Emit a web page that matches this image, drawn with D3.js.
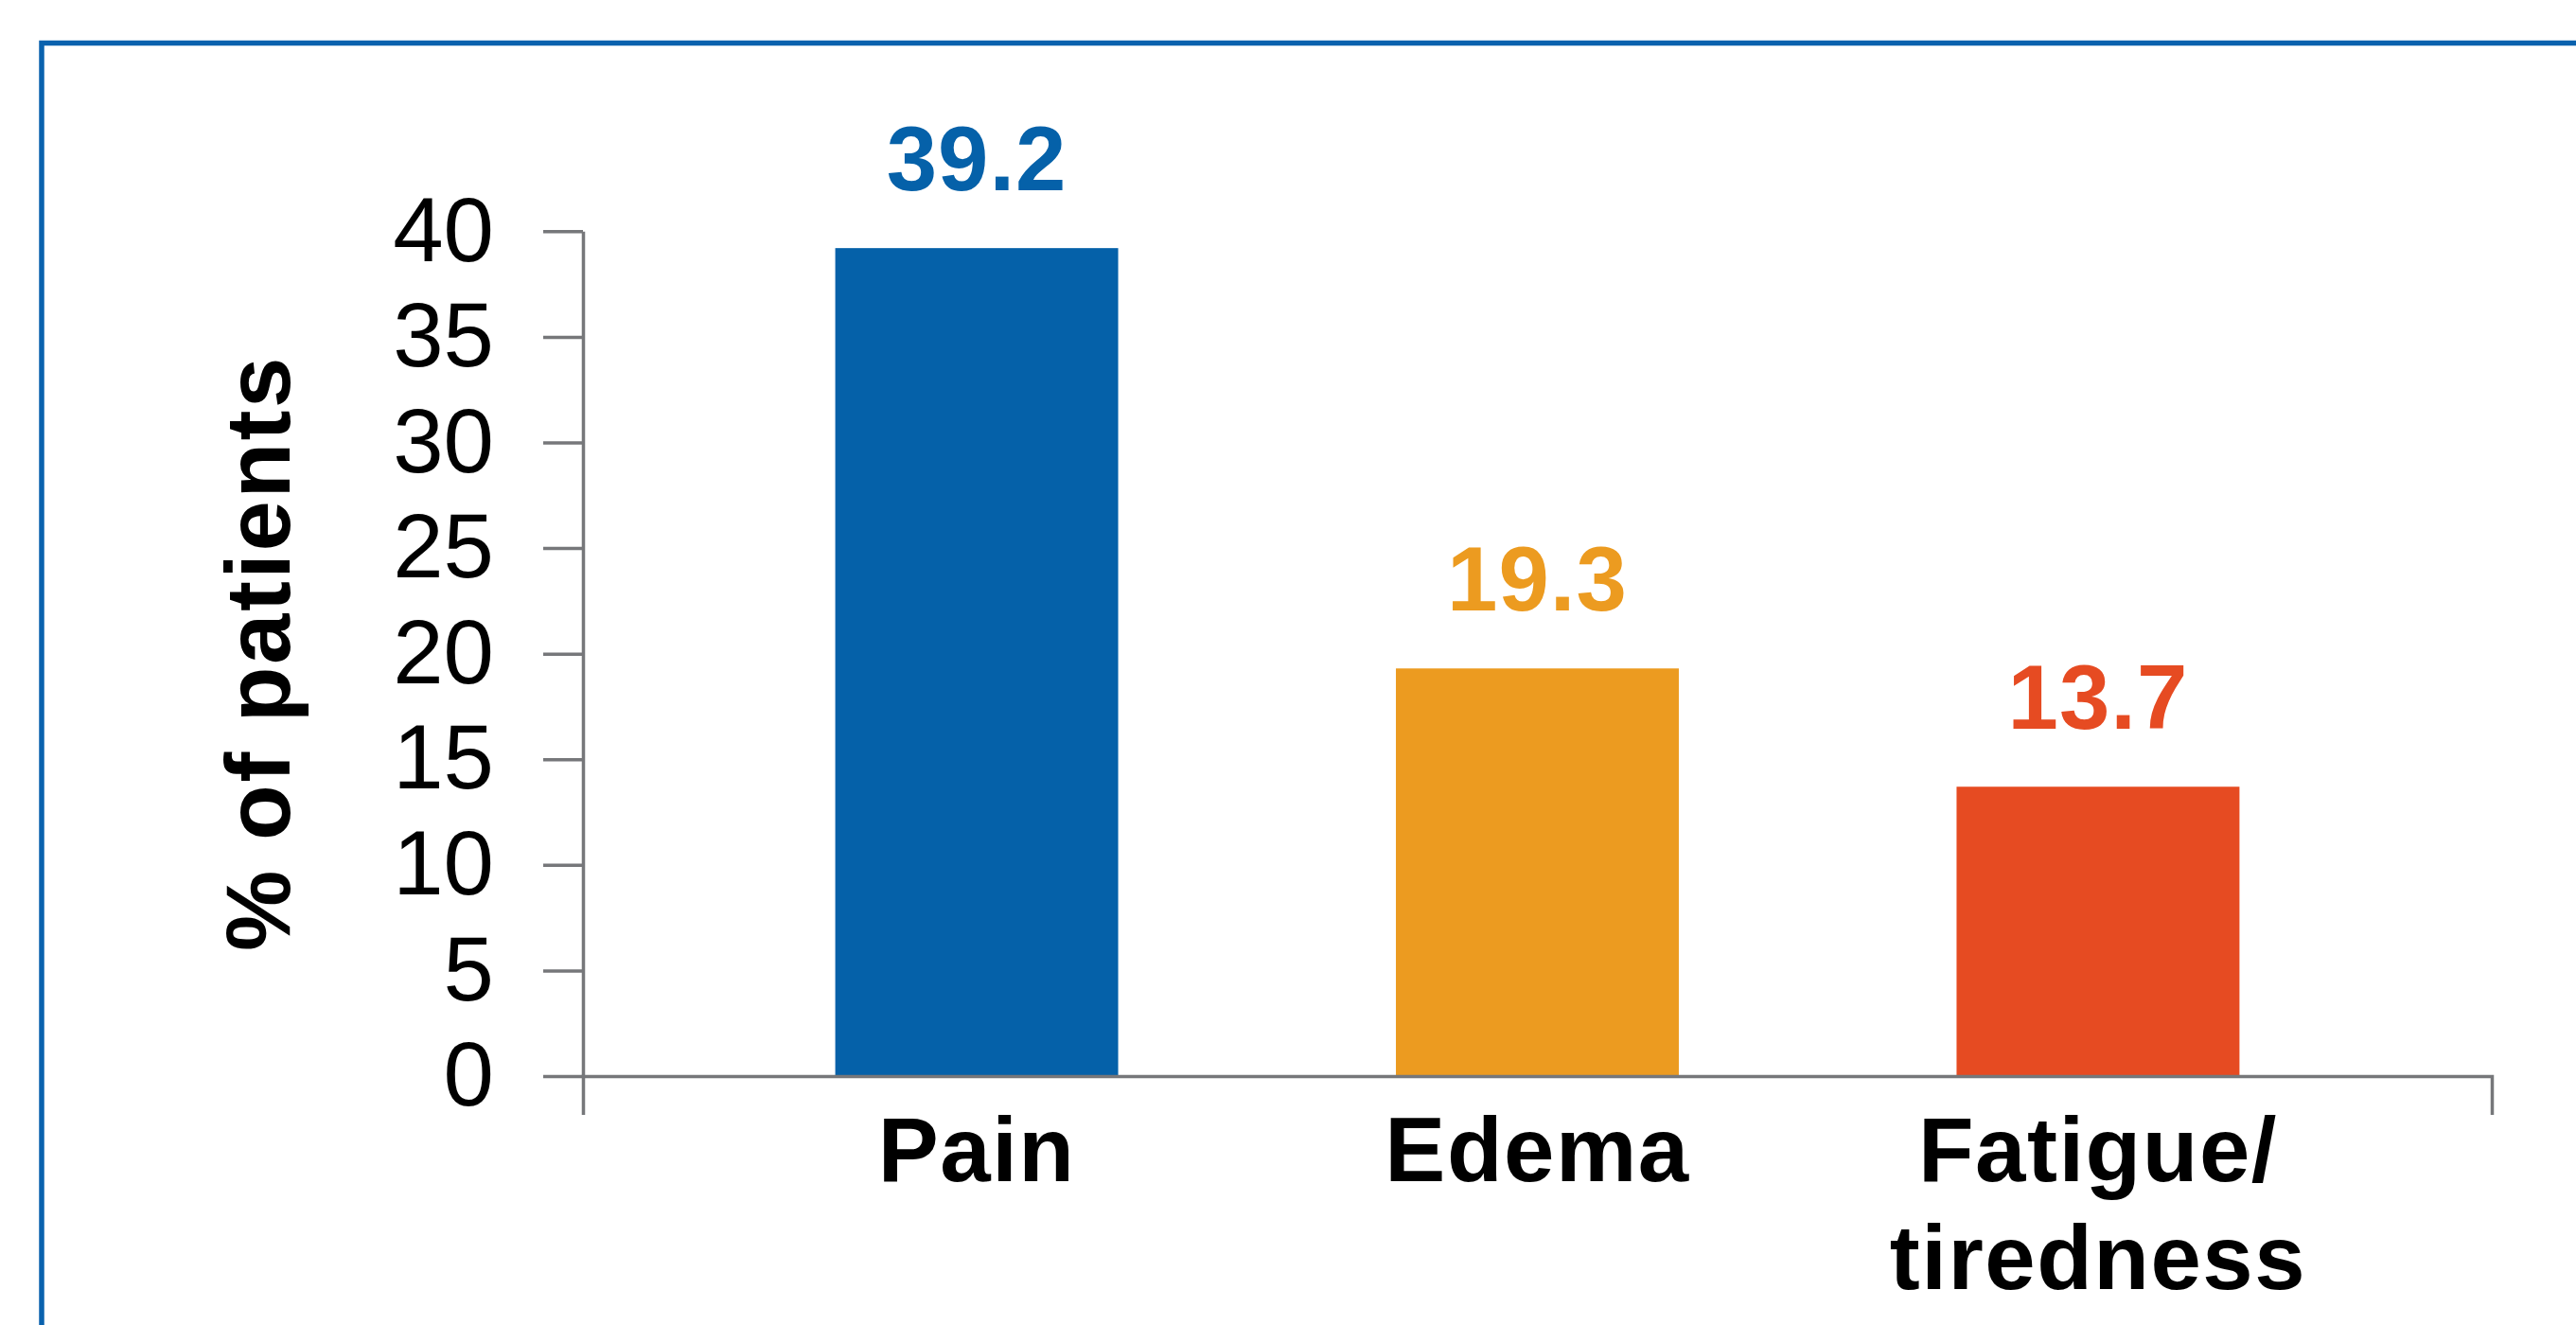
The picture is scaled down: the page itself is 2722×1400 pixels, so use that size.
<!DOCTYPE html>
<html>
<head>
<meta charset="utf-8">
<script src="https://cdn.jsdelivr.net/npm/d3@7/dist/d3.min.js"></script>
<style>
  html, body { margin: 0; padding: 0; background: #ffffff; }
  svg { display: block; }
  text { font-family: "Liberation Sans", Arial, Helvetica, sans-serif; }
</style>
</head>
<body>
<svg id="chart" width="2722" height="1400"></svg>
<script>
const categories = ["Pain", "Edema", "Fatigue/\ntiredness"];
const values = [39.2, 19.3, 13.7];
const valueLabels = ["39.2", "19.3", "13.7"];
const barColors = ["#0561A9", "#EC9B20", "#E64B22"];
const yTicks = [0, 5, 10, 15, 20, 25, 30, 35, 40];
const yTitle = "% of patients";

(function () {
const W = 2722, H = 1400;
const svg = d3.select("#chart");

// outer frame (continues past the right and bottom edges)
svg.append("rect")
  .attr("x", 44).attr("y", 45.5)
  .attr("width", W + 40).attr("height", H + 40)
  .attr("fill", "none")
  .attr("stroke", "#0A62AE")
  .attr("stroke-width", 5.5);

const plotLeft = 616, plotRight = 2633, plotTop = 244.3, plotBottom = 1137;
const axisColor = "#76777A";

const x = d3.scaleBand()
  .domain(categories)
  .range([plotLeft, plotRight])
  .paddingInner(0.4954)
  .paddingOuter(0.45);

const y = d3.scaleLinear().domain([0, 40]).range([plotBottom, plotTop]);

// bars
svg.append("g").selectAll("rect")
  .data(categories)
  .join("rect")
  .attr("x", d => x(d))
  .attr("y", (d, i) => y(values[i]))
  .attr("width", x.bandwidth())
  .attr("height", (d, i) => y(0) - y(values[i]))
  .attr("fill", (d, i) => barColors[i]);

// value labels
svg.append("g").selectAll("text")
  .data(categories)
  .join("text")
  .attr("x", d => x(d) + x.bandwidth() / 2)
  .attr("y", (d, i) => y(values[i]) - 61)
  .attr("text-anchor", "middle")
  .attr("font-size", 96)
  .attr("font-weight", "bold")
  .attr("letter-spacing", "1px")
  .attr("fill", (d, i) => barColors[i])
  .text((d, i) => valueLabels[i]);

// y axis
const yAxis = svg.append("g")
  .attr("transform", `translate(${plotLeft},0)`)
  .call(d3.axisLeft(y).tickValues(yTicks).tickSize(42).tickSizeOuter(0).tickPadding(52));
yAxis.selectAll("path, line").attr("stroke", axisColor).attr("stroke-width", 3.5);
yAxis.selectAll("text")
  .attr("font-size", 96)
  .attr("fill", "#000")
  .attr("font-family", "Liberation Sans, Arial, sans-serif");

// x axis
const xAxis = svg.append("g")
  .attr("transform", `translate(0,${plotBottom})`)
  .call(d3.axisBottom(x).tickSizeInner(0).tickSizeOuter(41).tickPadding(0));
xAxis.selectAll("path").attr("stroke", axisColor).attr("stroke-width", 3.5);
xAxis.selectAll("line").remove();
xAxis.selectAll("text")
  .attr("font-size", 96)
  .attr("font-weight", "bold")
  .attr("fill", "#000")
  .attr("letter-spacing", "1.5px")
  .attr("font-family", "Liberation Sans, Arial, sans-serif")
  .attr("dy", null)
  .attr("y", 111)
  .each(function(d) {
    const t = d3.select(this);
    const lines = d.split("\n");
    t.text(null);
    lines.forEach((ln, i) => {
      t.append("tspan")
        .attr("x", 0)
        .attr("y", 111 + i * 114)
        .text(ln);
    });
  });

// y axis title
svg.append("text")
  .attr("transform", `translate(306,690) rotate(-90)`)
  .attr("text-anchor", "middle")
  .attr("font-size", 96)
  .attr("font-weight", "bold")
  .attr("letter-spacing", "2.5px")
  .attr("fill", "#000")
  .text(yTitle);
})();
</script>
</body>
</html>
